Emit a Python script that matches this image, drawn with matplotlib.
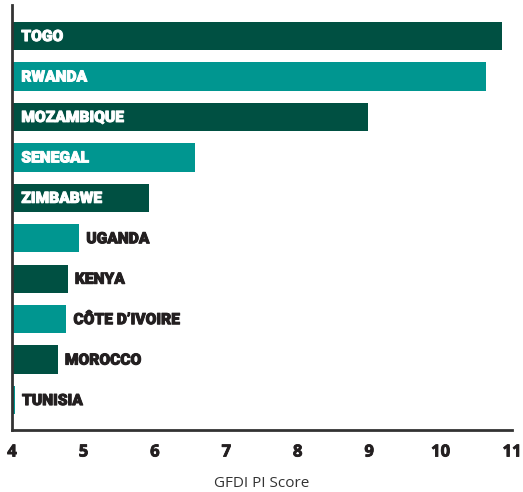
import matplotlib
matplotlib.use("Agg")
import matplotlib.pyplot as plt
import matplotlib.patheffects as pe

countries = ["TOGO", "RWANDA", "MOZAMBIQUE", "SENEGAL", "ZIMBABWE",
             "UGANDA", "KENYA", "CÔTE D\u2019IVOIRE", "MOROCCO", "TUNISIA"]
scores = [10.86, 10.64, 8.99, 6.56, 5.92, 4.94, 4.78, 4.76, 4.64, 4.04]
xticks = [4, 5, 6, 7, 8, 9, 10, 11]

dark = "#005042"
teal = "#009690"
text_dark = "#231f20"
base = 4

fig = plt.figure(figsize=(5.23, 4.92), dpi=100)
ax = fig.add_axes([0.023, 0.126, 0.956, 0.864])

n = len(countries)
ypos = list(range(n))
colors = [dark if i % 2 == 0 else teal for i in range(n)]
widths = [s - base for s in scores]
ax.barh(ypos, widths, left=base, height=0.7, color=colors, zorder=2)

for i, (name, s) in enumerate(zip(countries, scores)):
    # wide bars get the label inside, short ones just after the bar end
    if s > 5.5:
        x, c = base + 0.13, "white"
    else:
        x, c = s + 0.1, text_dark
    ax.text(x, i, name, color=c, va="center", ha="left", fontsize=11.2,
            family="Roboto", fontweight="black",
            path_effects=[pe.withStroke(linewidth=0.7, foreground=c)])

ax.set_xlim(4, 11)
ax.set_ylim(n - 1 + 0.74, -0.77)
ax.set_yticks([])
ax.set_xticks(xticks)
ax.set_xticklabels([str(t) for t in xticks], fontsize=12, fontweight="bold",
                   family="Open Sans", color=text_dark)
for lbl in ax.get_xticklabels():
    lbl.set_path_effects([pe.withStroke(linewidth=0.6, foreground=text_dark)])
ax.tick_params(axis="x", length=0, pad=9)
ax.set_xlabel("GFDI PI Score", fontsize=11, family="Open Sans",
              color="#333333", labelpad=11)

for side in ["top", "right"]:
    ax.spines[side].set_visible(False)
for side in ["left", "bottom"]:
    ax.spines[side].set_color("#333333")
    ax.spines[side].set_linewidth(2)

fig.savefig("out.png", dpi=100)
